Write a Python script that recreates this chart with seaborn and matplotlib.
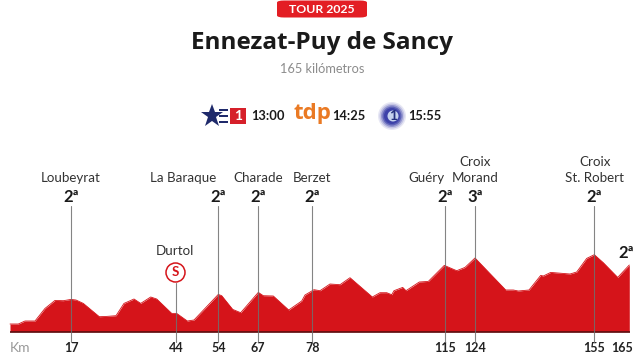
import matplotlib
matplotlib.use("Agg")
import matplotlib.pyplot as plt
import pandas as pd
import seaborn as sns
from matplotlib.patches import FancyBboxPatch, Rectangle, Circle

# --- data -------------------------------------------------------------
profile_pos = [10,18.3,25,35,45,55,63.3,71,76,83.3,99.3,106.7,116,124,134,140.7,150.7,156.7,171.7,176.7,
               187.3,194,218.3,221.7,232.7,240.7,258.3,263.3,273.3,288.7,301.7,305,314,320,330,340,350,
               372.3,380,386.7,391.7,394,402.7,406,419.3,428.3,444.3,456.7,465,475,505.7,513.3,518.3,529,
               540.7,543.3,550.7,570,576.7,586.7,594.3,603.3,617.7,629.3]
profile_alt = [7.7,7.7,10.7,10.7,23.3,31.3,31,32.3,31.7,28.3,15,15.3,16,28.3,32.7,28.3,34.7,32.7,18.3,18.3,
               10.7,11.7,37.3,36,22.3,19,39.3,36,35.7,21.7,30.7,36.7,42,41,47.7,47,54,
               34.7,39,39,37,41,44.3,41,49.7,50.3,66.3,61,64.3,73.7,41.7,41.7,40.7,41.7,
               56.3,55.7,59.3,57.7,59.7,73.3,77,69,54.3,66.7]
km_labels = ["17","44","54","67","78","115","124","155","165"]
km_pos = [71,176,218.5,258,312.5,445,475,594.5,621.7]
climb_names = ["Loubeyrat","La Baraque","Charade","Berzet","Guéry","Croix\nMorand","Croix\nSt. Robert"]
climb_pos = [71,218.5,258,312.5,445,475,594.5]
climb_cat = ["2ª","2ª","2ª","2ª","2ª","3ª","2ª"]
climb_name_x = [71,183.5,258,312.5,426,475,595]
sprint_name, sprint_pos = "Durtol", 176
final_cat = "2ª"
tag = "TOUR 2025"
title = "Ennezat-Puy de Sancy"
subtitle = "165 kilómetros"
tv_times = ["13:00","14:25","15:55"]

# --- style ------------------------------------------------------------
sns.set_theme(style="white")
FONT = "Lato"
plt.rcParams["font.family"] = [FONT, "DejaVu Sans"]
RED, INK, GREY = "#d5141a", "#1a1a1a", "#8a8a8a"
BASE = 331.7

fig = plt.figure(figsize=(6.44, 3.62), dpi=100)
ax = fig.add_axes([0, 0, 1, 1])
ax.set_xlim(0, 644)
ax.set_ylim(BASE - 362, BASE)
Y = lambda py: BASE - py   # screen row to axis height

df = pd.DataFrame({"pos": profile_pos, "alt": profile_alt})
ax.fill_between(df["pos"], 0, df["alt"], color=RED, lw=0, zorder=2)
sns.lineplot(data=df, x="pos", y="alt", color=RED, lw=0.6, ax=ax, zorder=2, errorbar=None, estimator=None)
ax.plot([10, 630], [0, 0], color="#5a0f10", lw=1.2, zorder=3, solid_capstyle="butt")
ax.axis("off")

for p in climb_pos:
    ax.plot([p, p], [Y(342), Y(206)], color="#6f6f6f", lw=0.8, zorder=4, alpha=.85)
ax.plot([sprint_pos]*2, [Y(342), Y(283)], color="#6f6f6f", lw=0.8, zorder=4, alpha=.85)

for n, x in zip(climb_names, climb_name_x):
    ax.text(x, Y(184), n, ha="center", va="bottom", fontsize=9.6, color="#333333", linespacing=1.35)
for c, x in zip(climb_cat, climb_pos):
    ax.text(x, Y(197), c, ha="center", va="center", fontsize=12, fontweight="bold", color=INK)
ax.text(626, Y(253), final_cat, ha="center", va="center", fontsize=12, fontweight="bold", color=INK)

ax.text(175, Y(251), sprint_name, ha="center", va="center", fontsize=9.6, color="#333333")
ax.add_patch(Circle((175.5, Y(272.5)), 9.5, fc="white", ec=RED, lw=1.1, zorder=5))
ax.text(175.5, Y(272.5), "S", ha="center", va="center", fontsize=9.5, fontweight="bold", color=RED, zorder=6)

ax.text(20, Y(348), "Km", ha="center", va="center", fontsize=10, color="#999999")
for l, x in zip(km_labels, km_pos):
    ax.text(x, Y(348), l, ha="center", va="center", fontsize=9, fontweight="bold", color="#222222")

ax.add_patch(FancyBboxPatch((282, Y(16)), 80, 14, boxstyle="round,pad=5,rounding_size=7",
                            fc="#e31e24", ec="none", mutation_aspect=0.3))
ax.text(322, Y(9.5), tag, ha="center", va="center", fontsize=8.8, fontweight="bold", color="white")
ax.text(322, Y(43), title, ha="center", va="center", fontsize=17.5, fontweight="bold", color=INK,
        family="Open Sans")
ax.text(322, Y(69), subtitle, ha="center", va="center", fontsize=9.2, color="#8c8c8c")

# broadcaster row
ax.plot([212], [Y(116)], marker="*", ms=17, color="#1f2a6b", mew=0)
for py in (110, 116, 122):
    ax.add_patch(Rectangle((219, Y(py) - 1), 9, 2, fc="#1f2a6b", ec="none"))
ax.add_patch(Rectangle((230, Y(124)), 16, 16, fc="#d6202a", ec="none"))
ax.text(238, Y(116), "1", ha="center", va="center", fontsize=10, fontweight="bold", color="white")
ax.text(267.5, Y(116), tv_times[0], ha="center", va="center", fontsize=9.3, fontweight="bold", color=INK)
ax.text(312.5, Y(114), "tdp", ha="center", va="center", fontsize=16, color="#ea7a24", family="Open Sans",
        fontweight="bold")
ax.text(348.5, Y(116), tv_times[1], ha="center", va="center", fontsize=9.3, fontweight="bold", color=INK)
for r, a in zip((14, 12.5, 11, 9.5, 8), (.12, .2, .35, .6, .9)):
    ax.add_patch(Circle((392, Y(116)), r, fc="#3a3fa8", ec="none", alpha=a))
ax.add_patch(Circle((393, Y(116)), 5.5, fc="#c5d2ee", ec="none"))
ax.text(393, Y(116), "1", ha="center", va="center", fontsize=10, fontweight="bold", color="#24307e")
ax.text(424.5, Y(116), tv_times[2], ha="center", va="center", fontsize=9.3, fontweight="bold", color=INK)

fig.savefig("out.png", dpi=100, facecolor="white")
